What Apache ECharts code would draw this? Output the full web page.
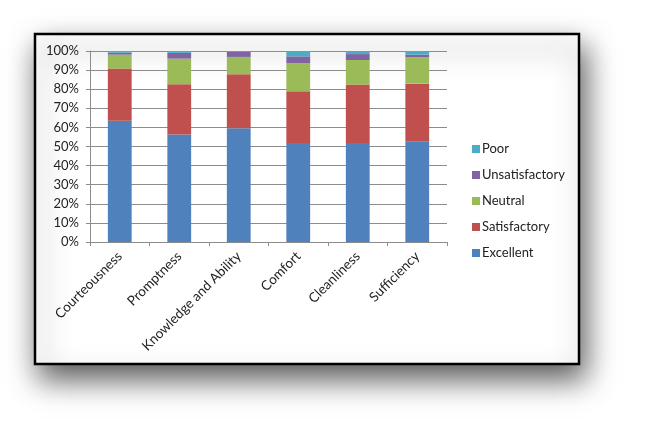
<!DOCTYPE html>
<html>
<head>
<meta charset="utf-8">
<script src="https://cdn.jsdelivr.net/npm/echarts@6/dist/echarts.min.js"></script>
<style>
html,body{margin:0;padding:0;background:#fff;}
#chart{width:646px;height:431px;}
</style>
</head>
<body>
<div id="chart"></div>
<script>
var categories = ['Courteousness', 'Promptness', 'Knowledge and Ability', 'Comfort', 'Cleanliness', 'Sufficiency'];
var excellent      = [63.5, 56.3, 59.5, 51.8, 51.8, 52.7];
var satisfactory   = [27.3, 26.3, 28.3, 27.1, 30.6, 30.2];
var neutral        = [7.3, 13.4, 9.1, 14.7, 12.9, 13.8];
var unsatisfactory = [1.0, 3.0, 2.7, 3.6, 3.1, 1.4];
var poor           = [0.9, 1.0, 0.4, 2.8, 1.6, 1.9];
var legendOrder = ['Poor', 'Unsatisfactory', 'Neutral', 'Satisfactory', 'Excellent'];

var font = 'Lato, "Open Sans", sans-serif';
var textColor = '#222';

function bar(name, data, color) {
  return {
    name: name, type: 'bar', stack: 'total', data: data,
    barWidth: '40%',
    itemStyle: { color: color },
    emphasis: { disabled: true }
  };
}

var chart = echarts.init(document.getElementById('chart'));
chart.setOption({
  animation: false,
  backgroundColor: '#fff',
  graphic: [{
    type: 'rect',
    z: -10,
    silent: true,
    shape: { x: 35, y: 34, width: 544, height: 330 },
    style: {
      fill: '#fff', stroke: '#000', lineWidth: 2.5,
      shadowBlur: 28, shadowOffsetX: 5, shadowOffsetY: 14,
      shadowColor: 'rgba(0,0,0,0.65)'
    }
  }],
  grid: { left: 90, right: 199, top: 51, bottom: 189, containLabel: false },
  legend: {
    orient: 'vertical',
    left: 467, top: 137,
    data: legendOrder,
    icon: 'rect',
    itemWidth: 8, itemHeight: 8,
    itemGap: 12,
    textStyle: { fontFamily: font, fontSize: 13, color: textColor, lineHeight: 14, padding: [0, 0, 0, -3] }
  },
  xAxis: {
    type: 'category',
    data: categories,
    axisLine: { lineStyle: { color: '#8c8c8c', width: 1 } },
    axisTick: { show: true, length: 4, alignWithLabel: false, lineStyle: { color: '#8c8c8c' } },
    axisLabel: { rotate: 45, margin: 12, interval: 0, fontFamily: font, fontSize: 13.5, color: textColor }
  },
  yAxis: {
    type: 'value',
    min: 0, max: 100, interval: 10,
    axisLine: { show: true, lineStyle: { color: '#8c8c8c', width: 1 } },
    axisTick: { show: true, length: 4, lineStyle: { color: '#8c8c8c' } },
    splitLine: { show: true, lineStyle: { color: '#8c8c8c', width: 1 } },
    axisLabel: { formatter: '{value}%', margin: 11, fontFamily: font, fontSize: 13, color: textColor }
  },
  series: [
    bar('Excellent', excellent, '#4F81BD'),
    bar('Satisfactory', satisfactory, '#C0504D'),
    bar('Neutral', neutral, '#9BBB59'),
    bar('Unsatisfactory', unsatisfactory, '#8064A2'),
    bar('Poor', poor, '#4BACC6')
  ]
});
</script>
</body>
</html>
